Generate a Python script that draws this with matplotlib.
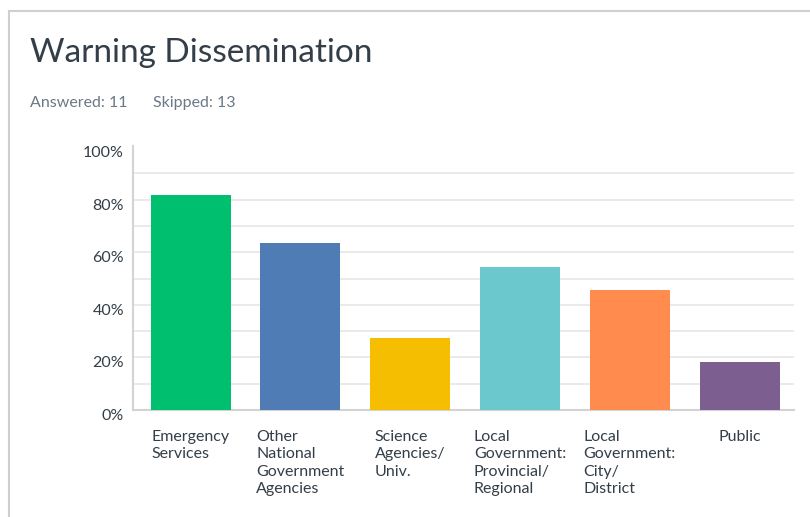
import matplotlib.pyplot as plt
import matplotlib.transforms as mtransforms
from matplotlib.patches import Rectangle

categories = ["Emergency\nServices",
              "Other\nNational\nGovernment\nAgencies",
              "Science\nAgencies/\nUniv.",
              "Local\nGovernment:\nProvincial/\nRegional",
              "Local\nGovernment:\nCity/\nDistrict",
              "Public"]
shares = [81.82, 63.64, 27.27, 54.55, 45.45, 18.18]
colors = ["#00BF6F", "#507CB6", "#F6BE00", "#6BC8CD", "#FF8B4F", "#7D5E90"]
yticks = [0, 20, 40, 60, 80, 100]

plt.rcParams['font.family'] = ['Lato', 'DejaVu Sans']

W, H = 810, 517
fig = plt.figure(figsize=(W / 100, H / 100), dpi=100)

# panel frame (only top and left edges show)
fig.patches.append(Rectangle((9 / W, -0.1), 1.1, 1 - 11 / H + 0.1,
                             transform=fig.transFigure, fill=False,
                             edgecolor="#cfcfcf", linewidth=1.5))

fig.text(30 / W, 1 - 53 / H, "Warning Dissemination", fontsize=24,
         color="#333e48", va="center", ha="left")
fig.text(30 / W, 1 - 103 / H, "Answered: 11", fontsize=11.5,
         color="#6b7886", va="center", ha="left")
fig.text(153 / W, 1 - 103 / H, "Skipped: 13", fontsize=11.5,
         color="#6b7886", va="center", ha="left")

ax = fig.add_axes([133 / W, 1 - 410 / H, 661 / W, 263 / H])
bar_w = 0.7286
x = range(len(categories))
ax.bar(x, shares, width=bar_w, color=colors, zorder=3)
ax.set_xlim(-0.5237, 5.496)
ax.set_ylim(0, 100)

for v in range(10, 100, 10):
    ax.axhline(v, color="#e6e6e6", linewidth=1.2, zorder=1)

for s in ["top", "right"]:
    ax.spines[s].set_visible(False)
for s in ["left", "bottom"]:
    ax.spines[s].set_color("#d3d3d3")
    ax.spines[s].set_linewidth(1.5)
ax.spines["left"].set_bounds(0, 100.5)

# y labels sit a little below their gridlines
ax.set_yticks(yticks)
ax.set_yticklabels([])
ax.tick_params(axis="y", length=0)
shift = mtransforms.ScaledTranslation(-9 / 100, -6 / 100, fig.dpi_scale_trans)
for t in yticks:
    ax.text(0, t, f"{t}%", fontsize=11.5, color="#333e48", ha="right",
            va="center", transform=ax.get_yaxis_transform() + shift)

# category labels: block centred under the bar, lines left-aligned
ax.set_xticks([])
for i, name in enumerate(categories):
    ax.text(i, -7.5, name, fontsize=11.5, color="#333e48",
            ha="center", va="top", multialignment="left", linespacing=1.32)

fig.savefig("out.png", dpi=100)
